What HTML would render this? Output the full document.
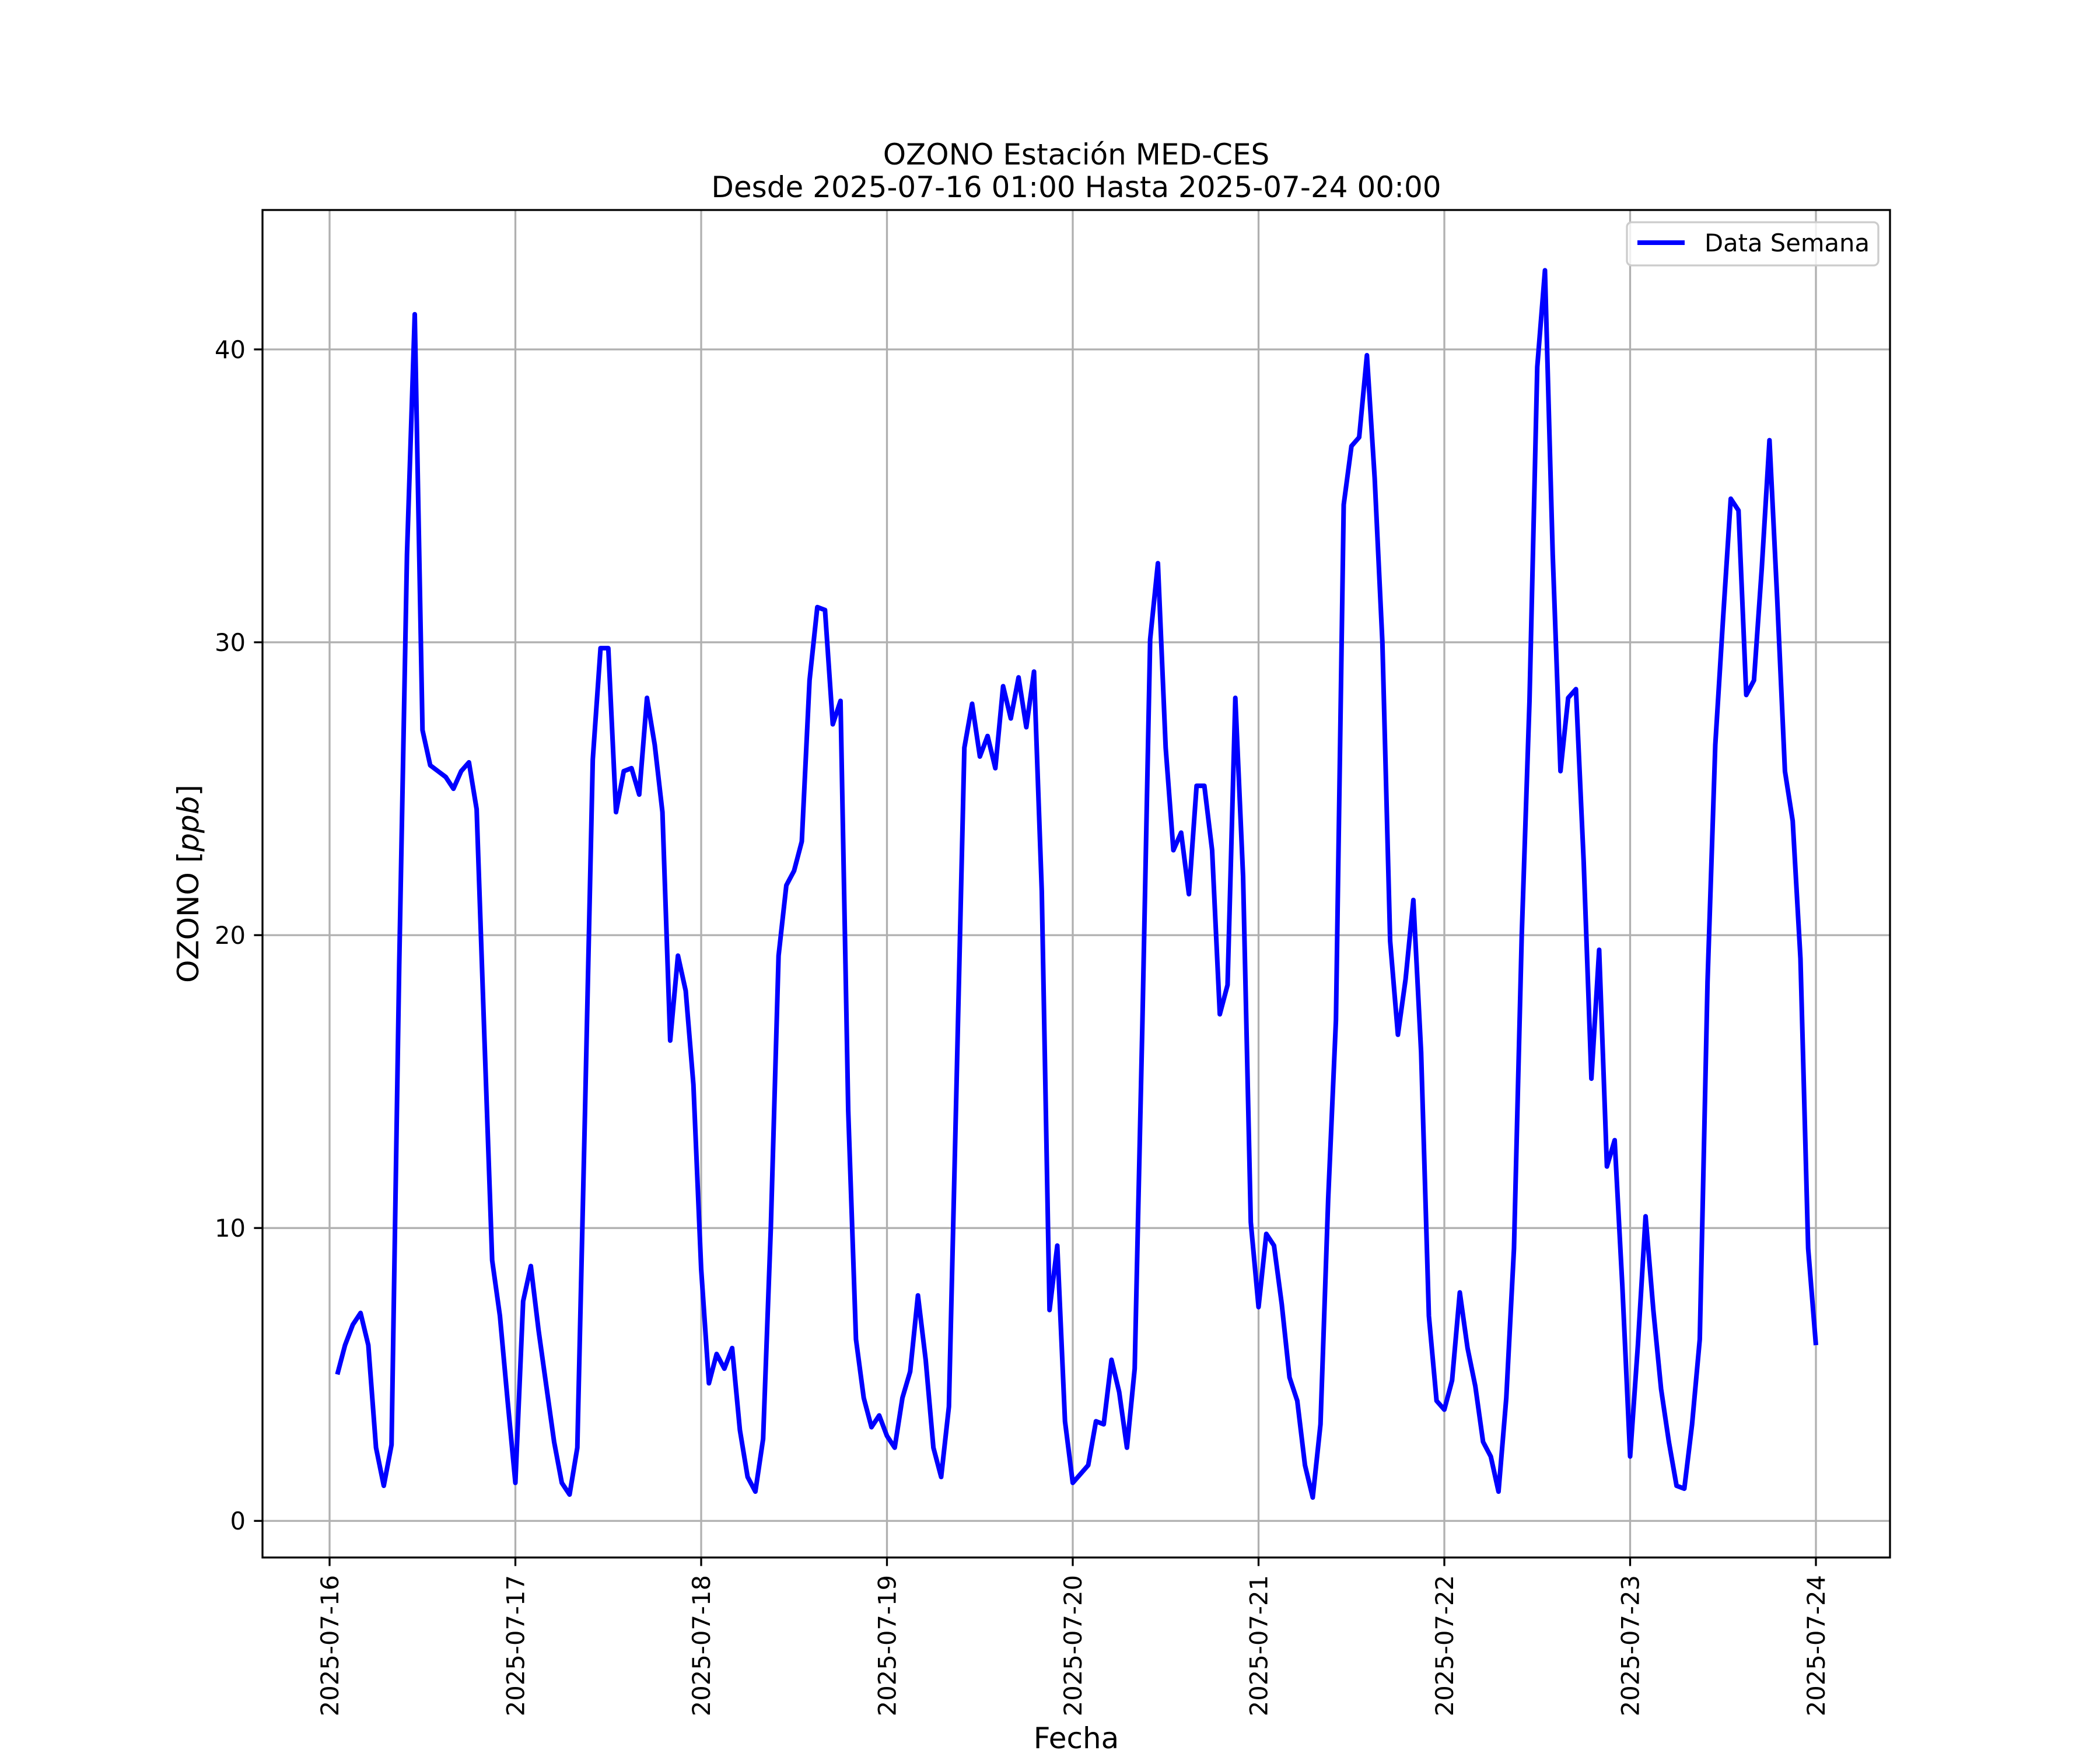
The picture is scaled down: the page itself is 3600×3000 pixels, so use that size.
<!DOCTYPE html>
<html><head><meta charset="utf-8"><style>body{margin:0;background:#fff}svg{display:block}text{font-family:"DejaVu Sans","Liberation Sans",sans-serif;fill:#000}</style></head>
<body>
<svg id="chart" width="3600" height="3000" viewBox="0 0 3600 3000" xmlns="http://www.w3.org/2000/svg">
<text x="1845" y="282" font-size="50" text-anchor="middle">OZONO Estación MED-CES</text>
<text x="1845" y="338" font-size="50" text-anchor="middle">Desde 2025-07-16 01:00 Hasta 2025-07-24 00:00</text>
<g id="grid"></g>
<g id="series"></g>
<rect x="450" y="360" width="2790" height="2310" fill="none" stroke="#000" stroke-width="3.3"/>
<g id="ticks"></g>
<text x="0" y="0" font-size="50" text-anchor="middle" transform="translate(340,1515) rotate(-90)">OZONO [<tspan font-style="italic">ppb</tspan>]</text>
<text x="1845" y="2997" font-size="50" text-anchor="middle">Fecha</text>
<g>
<rect x="2789" y="381" width="431" height="74" rx="8" fill="#fff" fill-opacity="0.8" stroke="#ccc" stroke-width="3.3"/>
<line x1="2807" y1="416" x2="2888" y2="416" stroke="#0000ff" stroke-width="8"/>
<text x="2922" y="431" font-size="41.7">Data Semana</text>
</g>
</svg>
<script>
const dayLabels=["2025-07-16","2025-07-17","2025-07-18","2025-07-19","2025-07-20","2025-07-21","2025-07-22","2025-07-23","2025-07-24"];
const yTicks=[0,10,20,30,40];
const ozone=[
5.0,6.0,6.7,7.1,6.0,2.5,1.2,2.6,19,33,41.2,27.0,25.8,25.6,25.4,25.0,25.6,25.9,24.3,16.5,8.9,7.0,4.1,1.3,
7.5,8.7,6.5,4.6,2.7,1.3,0.9,2.5,14,26.0,29.8,29.8,24.2,25.6,25.7,24.8,28.1,26.5,24.2,16.4,19.3,18.1,14.9,8.6,
4.7,5.7,5.2,5.9,3.1,1.5,1.0,2.8,10,19.3,21.7,22.2,23.2,28.7,31.2,31.1,27.2,28.0,14.0,6.2,4.2,3.2,3.6,2.9,
2.5,4.2,5.1,7.7,5.5,2.5,1.5,3.9,15,26.4,27.9,26.1,26.8,25.7,28.5,27.4,28.8,27.1,29.0,21.5,7.2,9.4,3.4,1.3,
1.6,1.9,3.4,3.3,5.5,4.4,2.5,5.2,17,30.1,32.7,26.4,22.9,23.5,21.4,25.1,25.1,22.9,17.3,18.3,28.1,22,10.2,7.3,
9.8,9.4,7.4,4.9,4.1,1.9,0.8,3.3,11,17.1,34.7,36.7,37.0,39.8,35.6,30,19.8,16.6,18.5,21.2,16,7.0,4.1,3.8,
4.8,7.8,5.9,4.6,2.7,2.2,1.0,4.2,9.3,20,28,39.4,42.7,33,25.6,28.1,28.4,22.5,15.1,19.5,12.1,13.0,8,2.2,
6,10.4,7.2,4.5,2.7,1.2,1.1,3.3,6.2,18.4,26.5,30.8,34.9,34.5,28.2,28.7,32.5,36.9,31.5,25.6,23.9,19.2,9.3,6.0];
const NS="http://www.w3.org/2000/svg";
const L=450,R=3240,T=360,B=2670;
const x0=565,pxPerHour=318.5/24;
const yMin=-1.25,yMax=44.76;
function xScale(h){return x0+h*pxPerHour;}
function yScale(v){return B-(v-yMin)/(yMax-yMin)*(B-T);}
function mk(tag,attrs,parent){const e=document.createElementNS(NS,tag);for(const k in attrs)e.setAttribute(k,attrs[k]);parent.appendChild(e);return e;}
const grid=document.getElementById('grid'),ticks=document.getElementById('ticks'),series=document.getElementById('series');
dayLabels.forEach((d,i)=>{
  const x=xScale(i*24);
  const g=mk('line',{x1:x,y1:T,x2:x,y2:B,stroke:'#b0b0b0','stroke-width':3.3},grid);
  
  
  const t=mk('line',{x1:x,y1:B,x2:x,y2:B+14.6,stroke:'#000','stroke-width':3.3},ticks);
  
  
  const lb=mk('text',{transform:`translate(${x+15},${B+30}) rotate(-90)`,'text-anchor':'end','font-size':41.7},ticks);
  lb.textContent=d;
  
  
});
yTicks.forEach(v=>{
  const y=yScale(v);
  const g=mk('line',{x1:L,y1:y,x2:R,y2:y,stroke:'#b0b0b0','stroke-width':3.3},grid);
  
  
  const t=mk('line',{x1:L-14.6,y1:y,x2:L,y2:y,stroke:'#000','stroke-width':3.3},ticks);
  
  
  const lb=mk('text',{x:L-29,y:y+15,'text-anchor':'end','font-size':41.7},ticks);
  lb.textContent=String(v);
  
  
});
const pts=ozone.map((v,i)=>xScale(i+1).toFixed(1)+','+yScale(v).toFixed(1)).join(' ');
const pl=mk('polyline',{points:pts,fill:'none',stroke:'#0000ff','stroke-width':8,'stroke-linejoin':'round'},series);


</script>
</body></html>
